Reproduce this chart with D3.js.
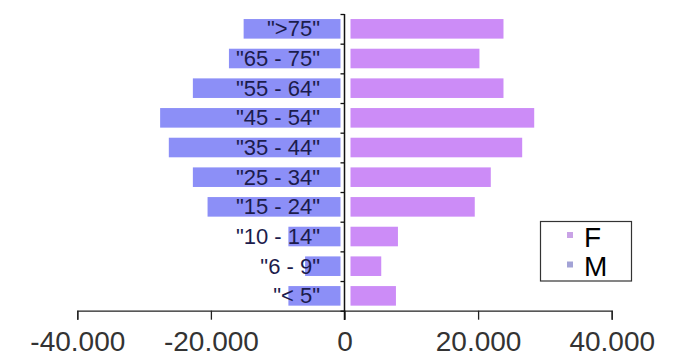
<!DOCTYPE html>
<html>
<head>
<meta charset="utf-8">
<script src="https://cdn.jsdelivr.net/npm/d3@7"></script>
<style>
  html, body { margin: 0; padding: 0; background: #fff; }
  svg { display: block; }
  text { font-family: "Liberation Sans", Arial, sans-serif; }
</style>
</head>
<body>
<svg id="chart" width="684" height="358"></svg>
<script>
// Age groups, oldest at the top
const ageGroups = ['">75"', '"65 - 75"', '"55 - 64"', '"45 - 54"', '"35 - 44"',
                   '"25 - 34"', '"15 - 24"', '"10 - 14"', '"6 - 9"', '"< 5"'];
// Population per age group
const femaleValues = [23800, 20200, 23800, 28400, 26600, 21900, 19500, 8000, 5500, 7700];
const maleValues   = [15100, 17300, 22700, 27600, 26300, 22700, 20500, 8400, 5900, 8400];
const xTickValues = [-40000, -20000, 0, 20000, 40000];
const seriesNames = ["F", "M"];

const colors = { F: "#cc8cf7", M: "#8c8ff7" };
const legendColors = { F: "#c9a3e6", M: "#a3a3d6" };

const svg = d3.select("#chart");

const x = d3.scaleLinear().domain([-40000, 40000]).range([77.3, 611.7]);
const y = d3.scaleBand().domain(ageGroups).range([14, 310.7])
  .paddingInner(0.34).paddingOuter(0.17);
const x0 = x(0);

// thousands separated by dots, plain hyphen for negatives
const locale = d3.formatLocale({ decimal: ",", thousands: ".", grouping: [3],
  currency: ["", ""], minus: "-" });
const fmt = locale.format(",");

// male bars to the left of the axis
svg.append("g").selectAll("rect").data(ageGroups).join("rect")
  .attr("x", (d, i) => x(-maleValues[i]))
  .attr("y", d => y(d))
  .attr("width", (d, i) => (x0 - 4) - x(-maleValues[i]))
  .attr("height", y.bandwidth())
  .attr("fill", colors.M);

// female bars to the right
svg.append("g").selectAll("rect").data(ageGroups).join("rect")
  .attr("x", x0 + 6)
  .attr("y", d => y(d))
  .attr("width", (d, i) => x(femaleValues[i]) - (x0 + 6))
  .attr("height", y.bandwidth())
  .attr("fill", colors.F);

// category labels, right-aligned next to the axis
svg.append("g").selectAll("text").data(ageGroups).join("text")
  .attr("x", 320)
  .attr("y", d => y(d) + y.bandwidth() / 2 + 7.5)
  .attr("text-anchor", "end")
  .attr("font-size", 22)
  .attr("fill", "#1c1c4c")
  .text(d => d);

// x axis
const xAxis = d3.axisBottom(x).tickValues(xTickValues)
  .tickSize(9).tickSizeOuter(9).tickFormat(fmt);
const gx = svg.append("g").attr("transform", "translate(0,310.7)").call(xAxis);
gx.select(".domain").attr("stroke", "#222").attr("stroke-width", 1.3);
gx.selectAll(".tick line").attr("stroke", "#222").attr("stroke-width", 1.3);
gx.selectAll(".tick text")
  .attr("y", 40.5).attr("dy", null)
  .attr("font-size", 28)
  .attr("font-family", "'Liberation Sans', Arial, sans-serif")
  .attr("fill", "#333");

// category axis with ticks on band boundaries
const yEdges = d3.scaleLinear().domain([0, ageGroups.length]).range([310.7, 14]);
const yAxis = d3.axisLeft(yEdges).ticks(ageGroups.length).tickSize(4)
  .tickSizeOuter(0).tickFormat("");
const gy = svg.append("g").attr("transform", `translate(${x0},0)`).call(yAxis);
gy.select(".domain").remove();
gy.selectAll(".tick line").attr("stroke", "#111").attr("stroke-width", 1.3);
svg.append("line")
  .attr("x1", x0).attr("x2", x0)
  .attr("y1", yEdges(ageGroups.length)).attr("y2", 320)
  .attr("stroke", "#111").attr("stroke-width", 1.5);

// legend
const legend = svg.append("g");
legend.append("rect")
  .attr("x", 540.5).attr("y", 221.5).attr("width", 91).attr("height", 59.5)
  .attr("fill", "#fff").attr("stroke", "#333").attr("stroke-width", 1.2);
const items = legend.selectAll("g.item").data(seriesNames).join("g")
  .attr("class", "item")
  .attr("transform", (d, i) => `translate(0,${i * 29.5})`);
items.append("rect")
  .attr("x", 567).attr("y", 232).attr("width", 6).attr("height", 6)
  .attr("fill", d => legendColors[d]);
items.append("text")
  .attr("x", 584).attr("y", 246.5)
  .attr("font-size", 28)
  .attr("fill", "#000")
  .text(d => d);
</script>
</body>
</html>
